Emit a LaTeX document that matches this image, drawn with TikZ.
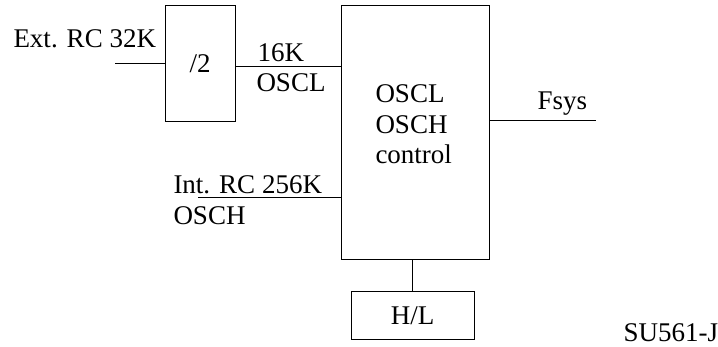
\documentclass[tikz,border=0pt]{standalone}
\usepackage{fontspec}
\setmainfont{Liberation Serif}
\begin{document}
\begin{tikzpicture}[x=0.5pt,y=-0.5pt,line width=0.5pt,
	txt/.style={anchor=base west,inner sep=0pt,font=\fontsize{13.5}{15}\selectfont},
	blk/.style={draw,rectangle,inner sep=0pt,font=\fontsize{13.5}{15}\selectfont}]
	\useasboundingbox (0,0) rectangle (718,347);
	\path
	(115,64) coordinate (extin)
	(341,67) coordinate (oscl)
	(198,198) coordinate (intin)
	(596,121) coordinate (fsys);
	
	\node[blk,minimum width=35pt,minimum height=58pt] (div) at (200,64) {/2};
	\node[blk,minimum width=74pt,minimum height=127pt] (main) at (415,133) {};
	\node[blk,minimum width=61.5pt,minimum height=24pt] (hl) at (412.5,316) {H/L};
	
	\draw (extin)--(div.west);
	\draw (div.east |- oscl)--(oscl);
	\draw (intin)--(intin -| main.west);
	\draw (fsys -| main.east)--(fsys);
	\draw (hl.north)--(hl.north |- main.south);
	
	\node[txt] (ext) at (13,48) {Ext. RC 32K};
	\node[txt] (lk) at (257,62) {16K};
	\node[txt] (lname) at (256,92) {OSCL};
	\node[txt] (ik) at (173,194) {Int. RC 256K};
	\node[txt] (iname) at (173,225) {OSCH};
	\node[txt] (ca) at (375,103) {OSCL};
	\node[txt] (cb) at (375,134) {OSCH};
	\node[txt] (cc) at (375,164) {control};
	\node[txt] (fs) at (537,110) {Fsys};
	\node[txt] (tag) at (623,342) {SU561-J};
\end{tikzpicture}
\end{document}
